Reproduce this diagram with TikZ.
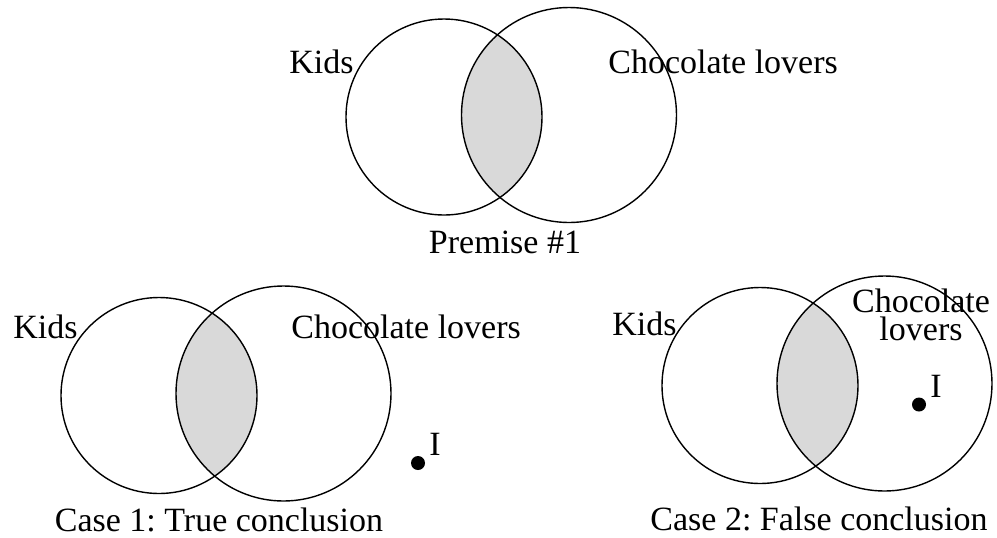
\documentclass[tikz,border=0pt]{standalone}
\usepackage{fontspec}
\setmainfont{Liberation Serif}
\frenchspacing
\definecolor{lensgray}{gray}{0.85}

\begin{document}
\begin{tikzpicture}[x=0.5pt,y=-0.5pt,
  every node/.style={font=\fontsize{17}{13.75}\selectfont,inner sep=0pt},
  set/.style={draw,circle,line width=0.7pt},
  dot/.style={fill,circle,minimum size=7pt}]
\useasboundingbox (0,0) rectangle (997,537);

% premise 1
\begin{scope}
\clip (444,117) circle (49pt);
\fill[lensgray] (569,115) circle (53.75pt);
\end{scope}
\node[set,minimum size=98pt] (kidsP) at (444,117) {};
\node[set,minimum size=107.5pt] (chocP) at (569,115) {};
\node[anchor=base west] (kidsPtext) at (289,73) {Kids};
\node[anchor=base west] (chocPtext) at (608,73) {Chocolate lovers};
\node[anchor=base] (premise) at (505,253) {Premise \#1};

% case 1
\begin{scope}
\clip (159,395.5) circle (49pt);
\fill[lensgray] (283.5,393.5) circle (53.75pt);
\end{scope}
\node[set,minimum size=98pt] (kidsA) at (159,395.5) {};
\node[set,minimum size=107.5pt] (chocA) at (283.5,393.5) {};
\node[anchor=base west] (kidsAtext) at (13,338) {Kids};
\node[anchor=base west] (chocAtext) at (291,338) {Chocolate lovers};
\node[dot] (dotA) at (418,463) {};
\node[anchor=base west] (iA) at (429,455) {I};
\node[anchor=base] (caseA) at (219,531) {Case 1: True conclusion};

% case 2
\begin{scope}
\clip (760,385.5) circle (49pt);
\fill[lensgray] (884.5,383.5) circle (53.75pt);
\end{scope}
\node[set,minimum size=98pt] (kidsB) at (760,385.5) {};
\node[set,minimum size=107.5pt] (chocB) at (884.5,383.5) {};
\node[anchor=base west] (kidsBtext) at (612,335) {Kids};
\node[anchor=base,align=center] (chocBtext) at (921,340) {Chocolate\\lovers};
\node[dot] (dotB) at (919,404.5) {};
\node[anchor=base west] (iB) at (930,397) {I};
\node[anchor=base] (caseB) at (819,530) {Case 2: False conclusion};
\end{tikzpicture}
\end{document}
